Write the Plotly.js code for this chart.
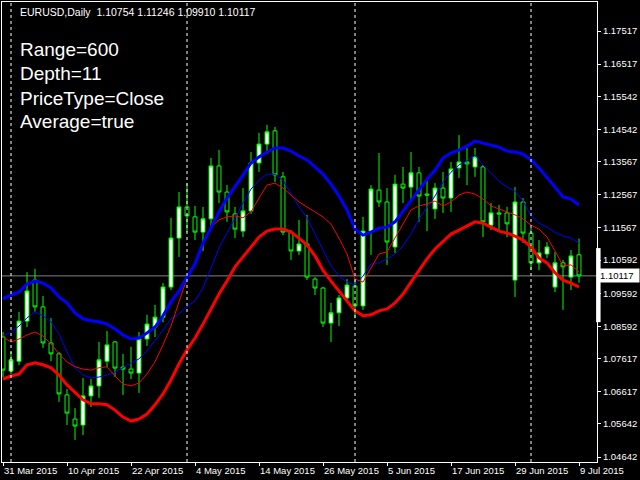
<!DOCTYPE html>
<html>
<head>
<meta charset="utf-8">
<script src="https://cdn.plot.ly/plotly-3.0.1.min.js"></script>
<style>html,body{margin:0;padding:0;background:#000;}#chart{width:640px;height:480px;}</style>
</head>
<body>
<div id="chart"></div>
<script>
// ---- data (EURUSD, Daily) ----
var dates = ["2015.03.31","2015.04.01","2015.04.02","2015.04.03","2015.04.06","2015.04.07","2015.04.08","2015.04.09","2015.04.10",
"2015.04.13","2015.04.14","2015.04.15","2015.04.16","2015.04.17","2015.04.20","2015.04.21","2015.04.22",
"2015.04.23","2015.04.24","2015.04.27","2015.04.28","2015.04.29","2015.04.30","2015.05.01","2015.05.04",
"2015.05.05","2015.05.06","2015.05.07","2015.05.08","2015.05.11","2015.05.12","2015.05.13","2015.05.14",
"2015.05.15","2015.05.18","2015.05.19","2015.05.20","2015.05.21","2015.05.22","2015.05.25","2015.05.26",
"2015.05.27","2015.05.28","2015.05.29","2015.06.01","2015.06.02","2015.06.03","2015.06.04","2015.06.05",
"2015.06.08","2015.06.09","2015.06.10","2015.06.11","2015.06.12","2015.06.15","2015.06.16","2015.06.17",
"2015.06.18","2015.06.19","2015.06.22","2015.06.23","2015.06.24","2015.06.25","2015.06.26","2015.06.29",
"2015.06.30","2015.07.01","2015.07.02","2015.07.03","2015.07.06","2015.07.07","2015.07.08","2015.07.09"];

var opens = [1.0827,1.0724,1.0754,1.0875,1.0999,1.0918,1.0809,1.0776,1.0652,
1.0579,1.0561,1.0649,1.0679,1.0754,1.0812,1.0736,1.0730,
1.0718,1.0821,1.0857,1.0887,1.0978,1.1126,1.1220,1.1190,
1.1144,1.1184,1.1344,1.1265,1.1199,1.1147,1.1208,1.1353,
1.1410,1.1450,1.1311,1.1144,1.1087,1.1108,1.1002,1.0975,
1.0869,1.0900,1.0945,1.0981,1.0921,1.1147,1.1271,1.1235,
1.1099,1.1289,1.1280,1.1323,1.1259,1.1214,1.1277,1.1247,
1.1338,1.1356,1.1341,1.1341,1.1165,1.1202,1.1202,1.0999,
1.1235,1.1141,1.1051,1.1078,1.0978,1.1051,1.1008,1.10754];
var highs = [1.0842,1.0782,1.0903,1.1023,1.1033,1.0951,1.0884,1.0782,1.0670,
1.0612,1.0703,1.0700,1.0812,1.0845,1.0815,1.0776,1.0797,
1.0842,1.0894,1.0924,1.0990,1.1187,1.1265,1.1292,1.1223,
1.1220,1.1368,1.1392,1.1286,1.1220,1.1277,1.1386,1.1444,
1.1468,1.1462,1.1326,1.1150,1.1181,1.1196,1.1008,1.0978,
1.0930,1.0954,1.1002,1.0999,1.1190,1.1286,1.1383,1.1277,
1.1317,1.1341,1.1386,1.1341,1.1301,1.1292,1.1326,1.1356,
1.1437,1.1398,1.1398,1.1347,1.1232,1.1226,1.1220,1.1280,
1.1247,1.1156,1.1120,1.1114,1.1084,1.1060,1.1090,1.11246];
var lows = [1.0706,1.0715,1.0742,1.0857,1.0903,1.0794,1.0754,1.0631,1.0561,
1.0516,1.0531,1.0615,1.0643,1.0736,1.0706,1.0652,1.0700,
1.0658,1.0800,1.0827,1.0872,1.0969,1.1069,1.1144,1.1120,
1.1087,1.1162,1.1232,1.1175,1.1126,1.1129,1.1199,1.1326,
1.1380,1.1295,1.1135,1.1060,1.1075,1.0999,1.0954,1.0857,
1.0812,1.0860,1.0933,1.0884,1.0909,1.1075,1.1220,1.1045,
1.1081,1.1232,1.1241,1.1175,1.1147,1.1184,1.1202,1.1205,
1.1308,1.1286,1.1311,1.1129,1.1150,1.1150,1.1129,1.0948,
1.1111,1.1029,1.1029,1.1066,1.0963,1.0909,1.0969,1.09910];
var closes = [1.0727,1.0758,1.0875,1.0966,1.0918,1.0809,1.0776,1.0655,1.0597,
1.0558,1.0649,1.0679,1.0758,1.0803,1.0733,1.0730,1.0718,
1.0821,1.0866,1.0887,1.0978,1.1126,1.1220,1.1193,1.1144,
1.1184,1.1344,1.1265,1.1205,1.1153,1.1208,1.1353,1.1410,
1.1447,1.1317,1.1144,1.1087,1.1108,1.1008,1.0975,1.0869,
1.0900,1.0945,1.0984,1.0921,1.1147,1.1274,1.1235,1.1114,
1.1289,1.1277,1.1323,1.1253,1.1256,1.1277,1.1247,1.1335,
1.1356,1.1350,1.1371,1.1175,1.1202,1.1199,1.1169,1.1235,
1.1141,1.1051,1.1081,1.1099,1.1051,1.1039,1.1072,1.10117];

// indicator lines
var upperOuter = [1.0942,1.0954,1.0963,1.0987,1.0996,1.0990,1.0975,1.0948,1.0930,
1.0900,1.0882,1.0876,1.0873,1.0866,1.0851,1.0833,1.0821,
1.0824,1.0839,1.0857,1.0891,1.0933,1.0966,1.1008,1.1048,
1.1111,1.1159,1.1205,1.1247,1.1280,1.1316,1.1353,1.1371,
1.1386,1.1398,1.1398,1.1389,1.1374,1.1362,1.1341,1.1319,
1.1289,1.1253,1.1211,1.1153,1.1135,1.1144,1.1156,1.1159,
1.1175,1.1208,1.1241,1.1271,1.1304,1.1331,1.1368,1.1383,
1.1392,1.1404,1.1419,1.1413,1.1407,1.1401,1.1389,1.1386,
1.1380,1.1362,1.1338,1.1310,1.1280,1.1250,1.1244,1.1226];
var upperInner = [1.0830,1.0842,1.0860,1.0885,1.0903,1.0891,1.0873,1.0836,1.0782,
1.0734,1.0712,1.0703,1.0706,1.0712,1.0721,1.0734,1.0749,
1.0761,1.0785,1.0815,1.0848,1.0882,1.0897,1.0918,1.0936,
1.0975,1.1036,1.1096,1.1141,1.1187,1.1232,1.1274,1.1301,
1.1319,1.1319,1.1301,1.1259,1.1220,1.1187,1.1138,1.1090,
1.1042,1.1011,1.0993,1.0984,1.1011,1.1048,1.1051,1.1063,
1.1078,1.1102,1.1138,1.1184,1.1220,1.1253,1.1295,1.1325,
1.1347,1.1359,1.1377,1.1347,1.1322,1.1298,1.1280,1.1268,
1.1238,1.1193,1.1171,1.1159,1.1144,1.1132,1.1126,1.1111];
var lowerInner = [1.0827,1.0812,1.0821,1.0833,1.0842,1.0830,1.0806,1.0776,1.0752,
1.0737,1.0730,1.0727,1.0734,1.0737,1.0709,1.0685,1.0679,
1.0688,1.0715,1.0752,1.0803,1.0860,1.0933,1.1005,1.1051,
1.1114,1.1159,1.1181,1.1190,1.1193,1.1187,1.1205,1.1247,
1.1286,1.1292,1.1277,1.1256,1.1235,1.1220,1.1205,1.1190,
1.1168,1.1126,1.1078,1.1002,1.0993,1.1036,1.1078,1.1084,
1.1126,1.1165,1.1211,1.1223,1.1229,1.1238,1.1223,1.1235,
1.1256,1.1265,1.1259,1.1244,1.1223,1.1214,1.1205,1.1196,
1.1184,1.1165,1.1153,1.1129,1.1087,1.1042,1.1045,1.1023];
var lowerOuter = [1.0700,1.0709,1.0715,1.0743,1.0749,1.0743,1.0734,1.0712,1.0682,
1.0661,1.0637,1.0625,1.0625,1.0622,1.0606,1.0585,1.0573,
1.0579,1.0594,1.0622,1.0655,1.0697,1.0746,1.0788,1.0824,
1.0866,1.0912,1.0957,1.0996,1.1039,1.1069,1.1099,1.1129,
1.1147,1.1153,1.1153,1.1144,1.1126,1.1105,1.1072,1.1029,
1.0996,1.0966,1.0939,1.0906,1.0891,1.0894,1.0906,1.0912,
1.0930,1.0957,1.0993,1.1029,1.1063,1.1093,1.1117,1.1138,
1.1150,1.1162,1.1175,1.1171,1.1159,1.1147,1.1141,1.1132,
1.1120,1.1099,1.1066,1.1051,1.1021,1.0999,1.0990,1.0978];

// axis labels
var tickDates  = ["2015.03.31","2015.04.10","2015.04.22","2015.05.04","2015.05.14","2015.05.26","2015.06.05","2015.06.17","2015.06.29","2015.07.09"];
var tickLabels = ["31 Mar 2015","10 Apr 2015","22 Apr 2015","4 May 2015","14 May 2015","26 May 2015","5 Jun 2015","17 Jun 2015","29 Jun 2015","9 Jul 2015"];
var priceTicks = [1.17517,1.16517,1.15542,1.14542,1.13567,1.12567,1.11567,1.10592,1.09592,1.08592,1.07617,1.06617,1.05642,1.04642];
var paramLines = ["Range=600","Depth=11","PriceType=Close","Average=true"];
var symbolTitle = "EURUSD,Daily";

// ---- chart ----
var traces = [
  {type:'candlestick', x:dates, open:opens, high:highs, low:lows, close:closes,
   whiskerwidth:0,
   increasing:{line:{color:'#00ff00', width:1}, fillcolor:'#ffffff'},
   decreasing:{line:{color:'#00ff00', width:1}, fillcolor:'#000000'},
   hoverinfo:'skip'},
  {type:'scatter', mode:'lines', x:dates, y:upperInner, line:{color:'#0000ff', width:1}, hoverinfo:'skip'},
  {type:'scatter', mode:'lines', x:dates, y:lowerInner, line:{color:'#ff0000', width:1}, hoverinfo:'skip'},
  {type:'scatter', mode:'lines', x:dates, y:upperOuter, line:{color:'#0000ff', width:3}, hoverinfo:'skip'},
  {type:'scatter', mode:'lines', x:dates, y:lowerOuter, line:{color:'#ff0000', width:3}, hoverinfo:'skip'}
];

var last = closes.length - 1;
var shapes = [];
// month separators: first trading day of each month
for (var i = 1; i < dates.length; i++) {
  if (dates[i].slice(5,7) !== dates[i-1].slice(5,7)) {
    shapes.push({type:'line', xref:'x', yref:'paper', x0:dates[i], x1:dates[i], y0:0, y1:1,
      line:{color:'#ffffff', width:1, dash:'3px,3px'}, layer:'above'});
  }
}
// current price line
shapes.push({type:'line', xref:'paper', yref:'y', x0:0, x1:1, y0:closes[last], y1:closes[last],
  line:{color:'#808080', width:1}, layer:'below'});
// white marker on the price scale
shapes.push({type:'rect', xref:'paper', yref:'paper', x0:0.9985, x1:1.006, y0:0.304, y1:0.465,
  fillcolor:'#ffffff', line:{width:0}, layer:'above'});

var annotations = [];
annotations.push({xref:'paper', yref:'paper', x:0.027, y:0.978, xanchor:'left', yanchor:'middle', showarrow:false,
  text: symbolTitle + '\u00a0\u00a0' + [opens[last], highs[last], lows[last], closes[last]].map(function(v){return v.toFixed(5);}).join(' '),
  font:{family:'Liberation Sans, Arial, sans-serif', size:10.5, color:'#ffffff'}});
var paramY = [0.8957, 0.8435, 0.7913, 0.7413];
for (var k = 0; k < paramLines.length; k++) {
  annotations.push({xref:'paper', yref:'paper', x:0.0275, y:paramY[k], xanchor:'left', yanchor:'middle', showarrow:false,
    text: paramLines[k], font:{family:'Liberation Sans, Arial, sans-serif', size:19, color:'#ffffff'}});
}
annotations.push({xref:'paper', yref:'y', x:1, y:closes[last], xanchor:'left', yanchor:'middle', showarrow:false,
  text: closes[last].toFixed(5), bgcolor:'#ffffff', borderpad:1, xshift:1, width:38, align:'left',
  font:{family:'Liberation Sans, Arial, sans-serif', size:9.5, color:'#000000'}});

var layout = {
  width:640, height:480,
  margin:{l:2, r:43, t:2, b:18, pad:0},
  paper_bgcolor:'#000000', plot_bgcolor:'#000000',
  showlegend:false, hovermode:false,
  font:{family:'Liberation Sans, Arial, sans-serif', color:'#ffffff', size:9.5},
  xaxis:{type:'category', range:[-0.125, 74.25], rangeslider:{visible:false}, fixedrange:true,
    showgrid:false, zeroline:false, showline:true, mirror:true, linecolor:'#ffffff', linewidth:1,
    ticks:'outside', ticklen:3, tickcolor:'#ffffff', tickwidth:1,
    tickmode:'array', tickvals:tickDates, ticktext:tickLabels, ticklabelposition:'outside right',
    tickfont:{family:'Liberation Sans, Arial, sans-serif', size:9.5, color:'#ffffff'}},
  yaxis:{side:'right', range:[1.04492, 1.18394], fixedrange:true,
    showgrid:false, zeroline:false, showline:true, mirror:true, linecolor:'#ffffff', linewidth:1,
    ticks:'outside', ticklen:3, tickcolor:'#ffffff', tickwidth:1,
    tickmode:'array', tickvals:priceTicks, ticktext:priceTicks.map(function(v){return v.toFixed(5);}),
    tickfont:{family:'Liberation Sans, Arial, sans-serif', size:9.5, color:'#ffffff'}},
  shapes:shapes,
  annotations:annotations
};

Plotly.newPlot('chart', traces, layout, {staticPlot:true, displayModeBar:false});
</script>
</body>
</html>
